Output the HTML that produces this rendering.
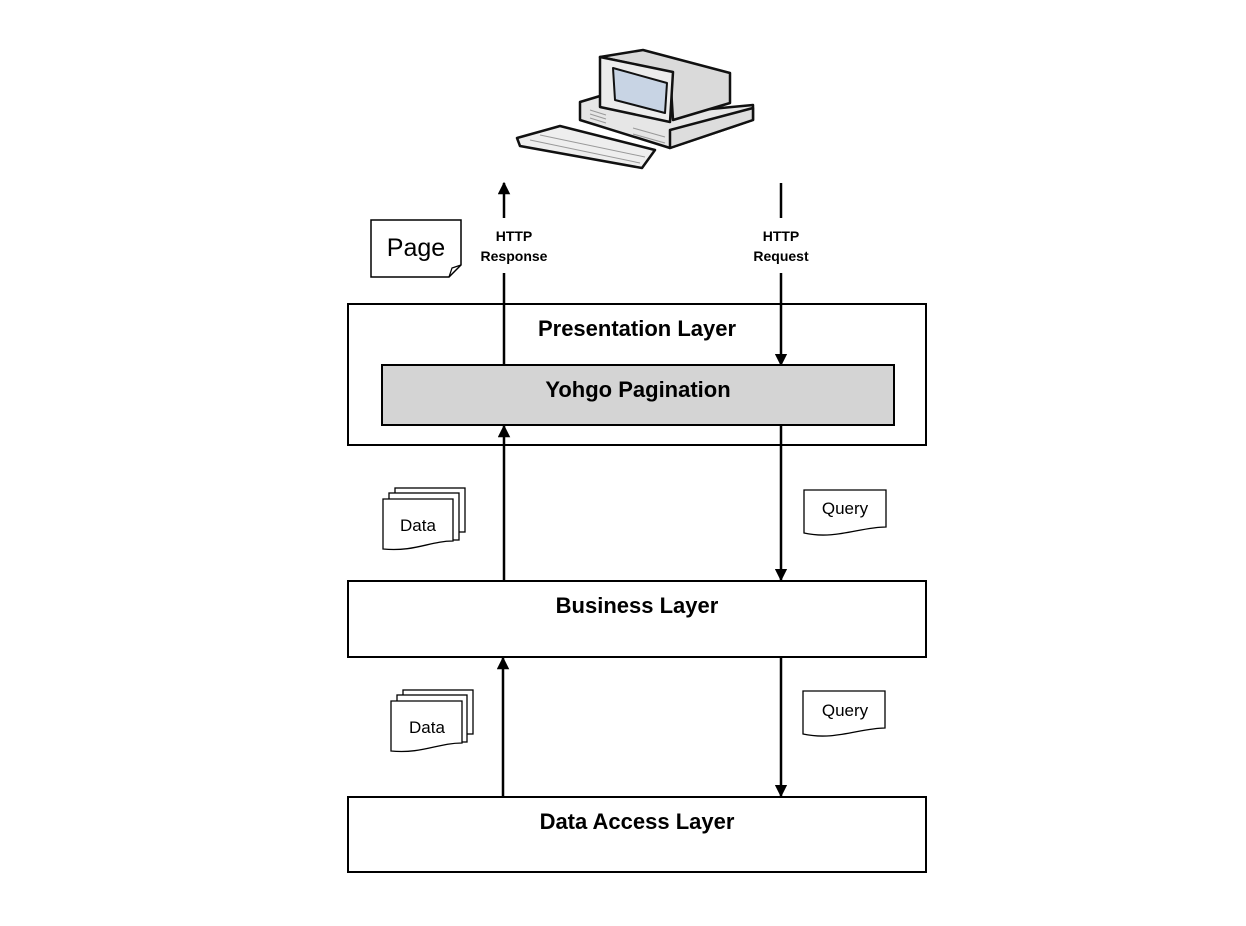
<!DOCTYPE html>
<html><head><meta charset="utf-8"><style>
body{margin:0;background:#fff;}
svg text{font-family:"Liberation Sans",Calibri,sans-serif;}
</style></head><body>
<svg width="1246" height="921" viewBox="0 0 1246 921" xmlns="http://www.w3.org/2000/svg">
<defs>
<marker id="ah" viewBox="0 0 10 10" refX="9" refY="5" markerWidth="5" markerHeight="5" orient="auto"><path d="M0,0 L10,5 L0,10 z" fill="#000"/></marker>
</defs>
<!-- computer -->
<g stroke="#111" stroke-width="2.5" stroke-linejoin="round">
<polygon points="517,138 560,126 655,150 642,168 520,146" fill="#eee"/>
<polygon points="580,102 610,93 700,110 753,105 753,120 670,148 580,120" fill="#e6e6e6"/>
<polygon points="670,130 753,108 753,120 670,148" fill="#ddd"/>
<polygon points="600,57 643,50 730,73 730,103 673,120 670,72" fill="#dadada"/>
<polygon points="600,57 673,72 670,122 600,107" fill="#ececec"/>
<polygon points="613,68 667,83 665,113 615,100" fill="#c8d4e4" stroke-width="2"/>
</g>
<g stroke="#999" stroke-width="1">
<line x1="590" y1="110" x2="606" y2="115"/><line x1="590" y1="114" x2="606" y2="119"/><line x1="590" y1="118" x2="606" y2="123"/>
<line x1="633" y1="128" x2="665" y2="137"/><line x1="633" y1="134" x2="665" y2="143"/>
<line x1="530" y1="140" x2="640" y2="163"/><line x1="540" y1="135" x2="645" y2="157"/>
</g>
<!-- Page doc -->
<path d="M371,220 H461 V265 L449,277 H371 Z" fill="#fff" stroke="#000" stroke-width="1.5"/>
<path d="M449,277 L452,268 L461,265" fill="none" stroke="#000" stroke-width="1.2"/>
<text x="416" y="256" font-size="25" text-anchor="middle">Page</text>
<!-- HTTP labels -->
<text x="514" y="241" font-size="14" font-weight="bold" text-anchor="middle">HTTP</text>
<text x="514" y="261" font-size="14" font-weight="bold" text-anchor="middle">Response</text>
<text x="781" y="241" font-size="14" font-weight="bold" text-anchor="middle">HTTP</text>
<text x="781" y="261" font-size="14" font-weight="bold" text-anchor="middle">Request</text>
<g stroke="#000" stroke-width="2.5" fill="none">
<line x1="504" y1="218" x2="504" y2="183" marker-end="url(#ah)"/>
<line x1="504" y1="365" x2="504" y2="273"/>
<line x1="781" y1="183" x2="781" y2="218"/>
<line x1="781" y1="273" x2="781" y2="365" marker-end="url(#ah)"/>
<line x1="504" y1="581" x2="504" y2="426" marker-end="url(#ah)"/>
<line x1="781" y1="426" x2="781" y2="580" marker-end="url(#ah)"/>
<line x1="503" y1="797" x2="503" y2="658" marker-end="url(#ah)"/>
<line x1="781" y1="658" x2="781" y2="796" marker-end="url(#ah)"/>
</g>
<!-- layers -->
<rect x="348" y="304" width="578" height="141" fill="none" stroke="#000" stroke-width="2"/>
<text x="637" y="336" font-size="22" font-weight="bold" text-anchor="middle">Presentation Layer</text>
<rect x="382" y="365" width="512" height="60" fill="#d4d4d4" stroke="#000" stroke-width="2"/>
<text x="638" y="397" font-size="22" font-weight="bold" text-anchor="middle">Yohgo Pagination</text>
<rect x="348" y="581" width="578" height="76" fill="#fff" stroke="#000" stroke-width="2"/>
<text x="637" y="613" font-size="22" font-weight="bold" text-anchor="middle">Business Layer</text>
<rect x="348" y="797" width="578" height="75" fill="#fff" stroke="#000" stroke-width="2"/>
<text x="637" y="829" font-size="22" font-weight="bold" text-anchor="middle">Data Access Layer</text>
<!-- Data stacks -->
<g stroke="#000" stroke-width="1.3" fill="#fff">
<rect x="395" y="488" width="70" height="44"/>
<rect x="389" y="493" width="70" height="47"/>
<path d="M383,499 H453 V541 C430,541 415,552 383,549 Z"/>
<rect x="403" y="690" width="70" height="44"/>
<rect x="397" y="695" width="70" height="47"/>
<path d="M391,701 H462 V743 C438,743 422,754 391,751 Z"/>
<path d="M804,490 H886 V527 C860,527 835,540 804,533 Z"/>
<path d="M803,691 H885 V728 C860,728 835,741 803,734 Z"/>
</g>
<text x="418" y="531" font-size="17" text-anchor="middle">Data</text>
<text x="427" y="733" font-size="17" text-anchor="middle">Data</text>
<text x="845" y="514" font-size="17" text-anchor="middle">Query</text>
<text x="845" y="716" font-size="17" text-anchor="middle">Query</text>
</svg>
</body></html>
